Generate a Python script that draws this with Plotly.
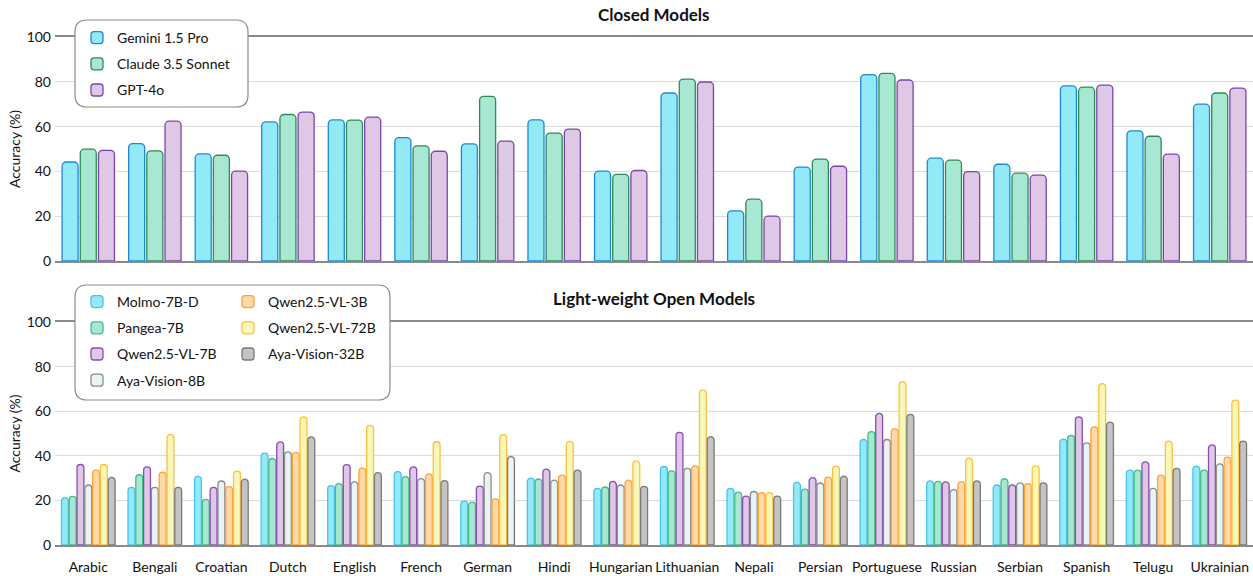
import plotly.graph_objects as go

languages = ["Arabic", "Bengali", "Croatian", "Dutch", "English", "French", "German", "Hindi",
             "Hungarian", "Lithuanian", "Nepali", "Persian", "Portuguese", "Russian", "Serbian",
             "Spanish", "Telugu", "Ukrainian"]

# Closed models
gemini = [44.2, 52.4, 47.8, 62.1, 63.0, 55.1, 52.3, 63.0, 40.1, 75.0, 22.4, 41.9, 83.2, 45.9, 43.2, 78.2, 58.1, 70.0]
claude = [49.9, 49.2, 47.2, 65.4, 62.9, 51.4, 73.5, 57.1, 38.7, 81.2, 27.6, 45.5, 83.8, 45.0, 39.2, 77.6, 55.7, 75.0]
gpt4o = [49.4, 62.4, 40.1, 66.5, 64.2, 49.0, 53.5, 58.9, 40.4, 79.9, 20.0, 42.3, 80.8, 39.9, 38.3, 78.5, 47.7, 77.2]

# Light-weight open models
molmo = [21.2, 25.8, 30.8, 41.2, 26.6, 32.9, 19.7, 30.0, 25.4, 35.2, 25.4, 28.1, 47.3, 28.8, 26.9, 47.5, 33.6, 35.4]
pangea = [21.8, 31.5, 20.5, 38.8, 27.5, 30.7, 19.2, 29.6, 26.0, 33.2, 23.7, 25.1, 50.8, 28.5, 29.7, 49.1, 33.6, 33.6]
qwen7b = [36.1, 35.0, 25.8, 46.2, 36.0, 35.0, 26.4, 34.0, 28.5, 50.5, 21.9, 30.2, 59.0, 28.3, 27.0, 57.5, 37.3, 44.9]
aya8b = [26.9, 25.8, 28.7, 41.8, 28.4, 29.8, 32.5, 29.1, 26.9, 34.4, 24.0, 27.8, 47.3, 24.8, 27.9, 45.8, 25.4, 36.4]
qwen3b = [33.6, 32.7, 26.2, 41.5, 34.6, 31.9, 20.7, 31.3, 29.1, 35.5, 23.5, 30.4, 52.1, 28.4, 27.5, 53.0, 31.3, 39.4]
qwen72b = [36.1, 49.6, 33.1, 57.5, 53.6, 46.3, 49.5, 46.5, 37.7, 69.6, 23.5, 35.4, 73.3, 39.0, 35.5, 72.4, 46.6, 65.0]
aya32b = [30.3, 25.8, 29.5, 48.5, 32.5, 28.9, 39.6, 33.6, 26.3, 48.6, 21.9, 30.9, 58.6, 28.8, 27.9, 55.1, 34.4, 46.6]

FONT = "Lato, 'Noto Sans', sans-serif"

L, R, T, B = 55, 0, 37, 31
W, H = 1253, 576
PW, PH = W - L - R, H - T - B


def px2paper(x, y):
    return (x - L) / PW, (H - B - y) / PH


def rounded_rect(x0, y0, x1, y1, r):
    def p(x, y):
        a, b = px2paper(x, y)
        return f"{a:.5f},{b:.5f}"
    return (f"M{p(x0 + r, y0)} L{p(x1 - r, y0)} Q{p(x1, y0)} {p(x1, y0 + r)} "
            f"L{p(x1, y1 - r)} Q{p(x1, y1)} {p(x1 - r, y1)} L{p(x0 + r, y1)} "
            f"Q{p(x0, y1)} {p(x0, y1 - r)} L{p(x0, y0 + r)} Q{p(x0, y0)} {p(x0 + r, y0)} Z")


fig = go.Figure()

closed = [
    ("Gemini 1.5 Pro", gemini, "#93EAF7", "#1E88D8"),
    ("Claude 3.5 Sonnet", claude, "#A8E8D2", "#2E8B57"),
    ("GPT-4o", gpt4o, "#DEC8E5", "#7B45A8"),
]
for name, vals, fill, line in closed:
    fig.add_trace(go.Bar(
        x=languages, y=vals, name=name, xaxis="x", yaxis="y",
        marker=dict(color=fill, line=dict(color=line, width=1.3), cornerradius=4),
        legend="legend3", legendgroup=name,
    ))

open_models = [
    ("Molmo-7B-D", molmo, "#93EAF7", "#4CC2EE", "legend"),
    ("Pangea-7B", pangea, "#A8E8D2", "#45BE85", "legend"),
    ("Qwen2.5-VL-7B", qwen7b, "#DEC8E5", "#8A4DB0", "legend"),
    ("Aya-Vision-8B", aya8b, "#E8F4F5", "#8C8C8C", "legend"),
    ("Qwen2.5-VL-3B", qwen3b, "#FFD9A8", "#FFA23A", "legend2"),
    ("Qwen2.5-VL-72B", qwen72b, "#F6F7B8", "#FFC042", "legend2"),
    ("Aya-Vision-32B", aya32b, "#C4C4C4", "#7A7A7A", "legend2"),
]
for name, vals, fill, line, lg in open_models:
    fills = [fill] * len(languages)
    if name == "Aya-Vision-32B":
        fills[languages.index("German")] = "#E8F4F5"
    fig.add_trace(go.Bar(
        x=languages, y=vals, name=name, xaxis="x2", yaxis="y2",
        marker=dict(color=fills, line=dict(color=line, width=1.3), cornerradius=4),
        legend=lg, legendgroup=name,
    ))

top_bottom = (H - B - 261) / PH
bot_top = (H - B - 322) / PH

axis_common = dict(showgrid=False, showline=True, mirror=True, linecolor="#8a8a8a", linewidth=1.5,
                   ticks="", automargin=False, ticklabelstandoff=8,
                   tickfont=dict(family=FONT, size=14, color="#111"))
yaxis_common = dict(range=[0, 100], tickvals=[0, 20, 40, 60, 80, 100], showgrid=True,
                    gridcolor="#dcdcdc", gridwidth=1.2, zeroline=False, showline=False,
                    automargin=False, ticklabelstandoff=3,
                    tickfont=dict(family=FONT, size=14, color="#111"),
                    title=dict(text="Accuracy (%)", font=dict(family=FONT, size=14, color="#111"), standoff=2))

legend_common = dict(xanchor="left", yanchor="top", bgcolor="rgba(0,0,0,0)",
                     font=dict(family=FONT, size=14, color="#111"), tracegroupgap=5, itemwidth=30)

fig.update_layout(
    width=W, height=H,
    margin=dict(l=L, r=R, t=T, b=B, autoexpand=False),
    plot_bgcolor="white", paper_bgcolor="white",
    barmode="group",
    font=dict(family=FONT, size=14, color="#111"),
    xaxis=dict(domain=[0, 1], anchor="y", showticklabels=False, **axis_common),
    yaxis=dict(domain=[top_bottom, 1], anchor="x", **yaxis_common),
    xaxis2=dict(domain=[0, 1], anchor="y2", **axis_common),
    yaxis2=dict(domain=[0, bot_top], anchor="x2", **yaxis_common),
    bargap=0.18, bargroupgap=0.12,
    legend3=dict(x=px2paper(77, 0)[0], y=px2paper(0, 22)[1], **legend_common),
    legend=dict(x=px2paper(77, 0)[0], y=px2paper(0, 286)[1], **legend_common),
    legend2=dict(x=px2paper(228, 0)[0], y=px2paper(0, 286)[1], **legend_common),
    shapes=[
        dict(type="path", xref="paper", yref="paper", path=rounded_rect(75, 20, 248, 107, 12),
             fillcolor="white", line=dict(color="#8a8a8a", width=1.2), layer="above"),
        dict(type="path", xref="paper", yref="paper", path=rounded_rect(75, 285, 390, 400, 12),
             fillcolor="white", line=dict(color="#8a8a8a", width=1.2), layer="above"),
    ],
    annotations=[
        dict(text="<b>Closed Models</b>", x=0.5, y=px2paper(0, 14)[1], xref="paper", yref="paper",
             showarrow=False, font=dict(family=FONT, size=17, color="#111"), yanchor="middle"),
        dict(text="<b>Light-weight Open Models</b>", x=0.5, y=px2paper(0, 298)[1], xref="paper", yref="paper",
             showarrow=False, font=dict(family=FONT, size=17, color="#111"), yanchor="middle"),
    ],
)

fig.write_html("out.html", config={"displayModeBar": False},
               post_script="document.body.style.margin='0';document.body.style.overflow='hidden';")
